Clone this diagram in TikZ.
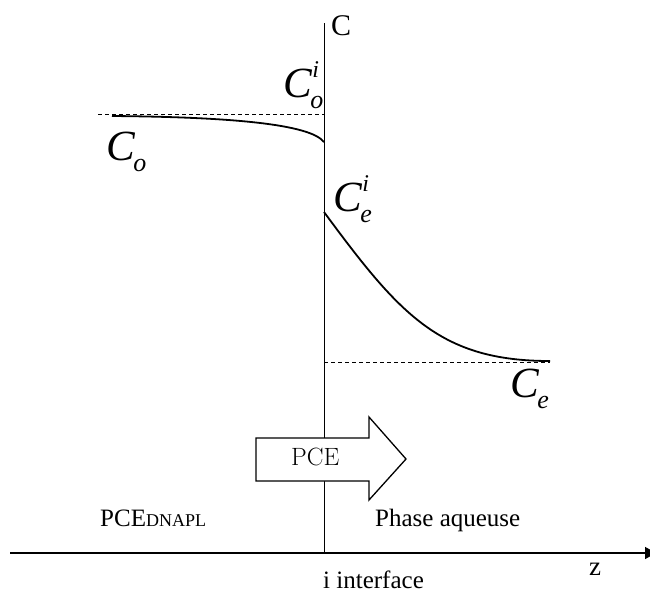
\documentclass[tikz,border=0pt]{standalone}
\usepackage{fontspec}
\newfontfamily\tms{Liberation Serif}
\usetikzlibrary{arrows.meta}
\newcommand{\conc}[2]{\textit{C}\rlap{\raisebox{20pt}{\fontsize{24}{24}\selectfont\textit{#2}}}\kern-2pt\raisebox{-11pt}{\fontsize{26}{26}\selectfont\textit{#1}}}

\begin{document}
\begin{tikzpicture}[x=1pt, y=-1pt,
  conc/.style={font=\tms\fontsize{43}{43}\selectfont, inner sep=0pt, anchor=base west},
  lbl/.style={font=\tms\fontsize{25}{28}\selectfont, inner sep=0pt, anchor=base west},
  guide/.style={dash pattern=on 4pt off 3pt, line width=0.8pt},
  profile/.style={line width=1.8pt}]
  \useasboundingbox (0,0) rectangle (650,595);
  \coordinate (top) at (324,23);
  \coordinate (orig) at (324,553);
  \coordinate (left) at (10,553);
  \coordinate (right) at (656,553);
  \coordinate (coi) at (324,142);
  \coordinate (cei) at (324,212);
  \coordinate (co) at (112,116);
  \coordinate (ce) at (550,361);
  \draw[line width=1pt] (top) -- (orig);
  \draw[line width=1.6pt, -{Triangle[length=11pt, width=12pt]}] (left) -- (right);
  \draw[guide] (98,114) -- (324,114);
  \draw[guide] (324,362) -- (550,362);
  \draw[profile] (co) .. controls (230,117) and (310,124) .. (coi);
  \draw[profile] (cei) .. controls (400,315) and (440,361) .. (ce);
  \draw[line width=1.3pt, fill=white] (256,438) -- (369,438) -- (369,417) -- (406,459)
    -- (369,500) -- (369,481) -- (256,481) -- cycle;
  \node[inner sep=0pt, anchor=base west, font=\fontsize{25}{28}\selectfont] (flux) at (291,465) {PCE};
  \node[lbl, font=\tms\fontsize{30}{32}\selectfont] (cax) at (331,35) {C};
  \node[conc] (coilbl) at (283,97) {\conc{o}{i}};
  \node[conc] (colbl) at (106,160) {\conc{o}{}};
  \node[conc] (ceilbl) at (333,211) {\conc{e}{i}};
  \node[conc] (celbl) at (510,397) {\conc{e}{}};
  \node[lbl] (dnapl) at (100,526) {PCE{\fontsize{18}{20}\selectfont DNAPL}};
  \node[lbl] (aq) at (375,526) {Phase aqueuse};
  \node[lbl] (iface) at (323,588) {i interface};
  \node[lbl, font=\tms\fontsize{27}{30}\selectfont] (zax) at (589,575) {z};
\end{tikzpicture}
\end{document}
